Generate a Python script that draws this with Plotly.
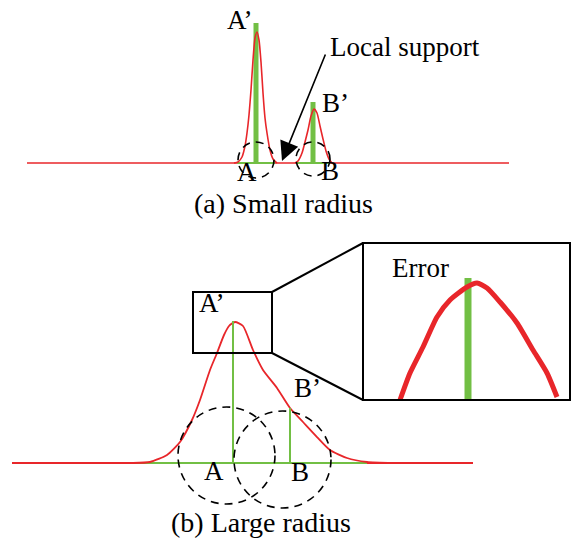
import plotly.graph_objects as go

W, H = 573, 539
RED = "#e8262a"
GREEN = "#72bf44"
FONT = "Liberation Serif"

# ---------- (a) Small radius ----------
a_base_x = [27, 509]
a_base_y = [163, 163]
a_peakA_x = [234, 238, 242, 245, 247, 249, 251, 253, 255, 257, 259, 261, 263, 265, 267, 270, 273, 277]
a_peakA_y = [163, 162, 157, 146, 133, 115, 90, 60, 38, 32, 40, 62, 93, 118, 133, 150, 159, 163]
a_peakB_x = [295, 298, 302, 305, 308, 311, 314, 317, 320, 323, 326, 329, 332]
a_peakB_y = [163, 161, 153, 142, 130, 116, 109, 113, 126, 139, 151, 159, 163]
a_green_base = [[237, 275], [297, 330]]
a_bar_x = [256, 313]
a_bar_top = [23, 102]
a_circles = [(256, 160, 18), (313, 159, 17)]  # cx, cy, r

# ---------- (b) Large radius ----------
b_base_x = [12, 473]
b_base_y = [463, 463]
b_green_x = [133, 367]
b_curve_x = [133, 150, 167, 180, 192, 200, 210, 217, 224, 229, 235, 243, 253, 263, 277, 290, 303, 317, 330, 347, 367, 393]
b_curve_y = [463, 462, 455, 442, 420, 400, 370, 353, 335, 326, 322, 326, 350, 370, 388, 408, 422, 437, 450, 458, 462, 463]
b_bar_x = [233, 290]
b_bar_top = [321, 408]
b_circles = [(226.5, 455.5, 48.5), (282.5, 459.5, 48.5)]

# zoom inset
z_curve_x = [400, 410, 423, 437, 450, 467, 477, 487, 500, 517, 533, 547, 557]
z_curve_y = [400, 373, 347, 317, 300, 287, 283, 288, 302, 323, 350, 373, 397]
z_bar_x = 468
z_bar_top = 278
small_box = (193, 292, 272, 353)
big_box = (363, 243, 570, 400)

labels = [
    ("A\u2019", 240, 20, 27), ("B\u2019", 335, 103, 27), ("A", 247, 172, 27), ("B", 330, 171, 27),
    ("Local support", 405, 47, 27), ("(a) Small radius", 283, 203, 28),
    ("A\u2019", 212, 303, 27), ("B\u2019", 307, 388, 27), ("A", 214, 471, 27), ("B", 300, 472, 27),
    ("Error", 420, 268, 27), ("(b) Large radius", 261, 522, 28),
]

fig = go.Figure()

def line(x, y, color, width, shape="linear"):
    fig.add_trace(go.Scatter(x=x, y=y, mode="lines", hoverinfo="skip",
                             line=dict(color=color, width=width, shape=shape,
                                       smoothing=0.6)))

# (a)
line(a_base_x, a_base_y, RED, 1.6)
for seg in a_green_base:
    line(seg, [a_base_y[0]] * 2, GREEN, 2)
for bx, bt in zip(a_bar_x, a_bar_top):
    line([bx, bx], [a_base_y[0], bt], GREEN, 5)
line(a_peakA_x, a_peakA_y, RED, 1.6, "spline")
line(a_peakB_x, a_peakB_y, RED, 1.6, "spline")

# (b)
line(b_base_x, b_base_y, RED, 1.8)
line(b_green_x, b_base_y, GREEN, 2)
line(b_curve_x, b_curve_y, RED, 1.8, "spline")
for bx, bt in zip(b_bar_x, b_bar_top):
    line([bx, bx], [b_base_y[0], bt], GREEN, 2)

# inset
line([z_bar_x, z_bar_x], [big_box[3], z_bar_top], GREEN, 7)
line(z_curve_x, z_curve_y, RED, 5, "spline")

shapes = []
for cx, cy, r in a_circles + b_circles:
    shapes.append(dict(type="circle", xref="x", yref="y", x0=cx - r, x1=cx + r,
                       y0=cy - r, y1=cy + r,
                       line=dict(color="black", width=1.6, dash="8px,6px")))
for (x0, y0, x1, y1) in [small_box, big_box]:
    shapes.append(dict(type="rect", xref="x", yref="y", x0=x0, y0=y0, x1=x1, y1=y1,
                       line=dict(color="black", width=2)))
shapes.append(dict(type="line", xref="x", yref="y", x0=small_box[2], y0=small_box[1],
                   x1=big_box[0], y1=big_box[1], line=dict(color="black", width=2)))
shapes.append(dict(type="line", xref="x", yref="y", x0=small_box[2], y0=small_box[3],
                   x1=big_box[0], y1=big_box[3], line=dict(color="black", width=2)))

annotations = []
for text, x, y, s in labels:
    annotations.append(dict(text=text, x=x, y=y, xref="x", yref="y", showarrow=False,
                            xanchor="center", yanchor="middle",
                            font=dict(family=FONT, size=s, color="black")))
annotations.append(dict(text="", x=282, y=161, ax=326, ay=53, xref="x", yref="y",
                        axref="x", ayref="y", showarrow=True, arrowhead=2,
                        arrowsize=2.4, arrowwidth=1.6, arrowcolor="black"))

fig.update_layout(
    width=W, height=H, margin=dict(l=0, r=0, t=0, b=0),
    paper_bgcolor="white", plot_bgcolor="white", showlegend=False,
    xaxis=dict(range=[0, W], visible=False, fixedrange=True),
    yaxis=dict(range=[H, 0], visible=False, fixedrange=True),
    shapes=shapes, annotations=annotations,
)
fig.write_html("out.html", config={"displayModeBar": False},
               post_script="document.body.style.margin='0';document.body.style.overflow='hidden';")
